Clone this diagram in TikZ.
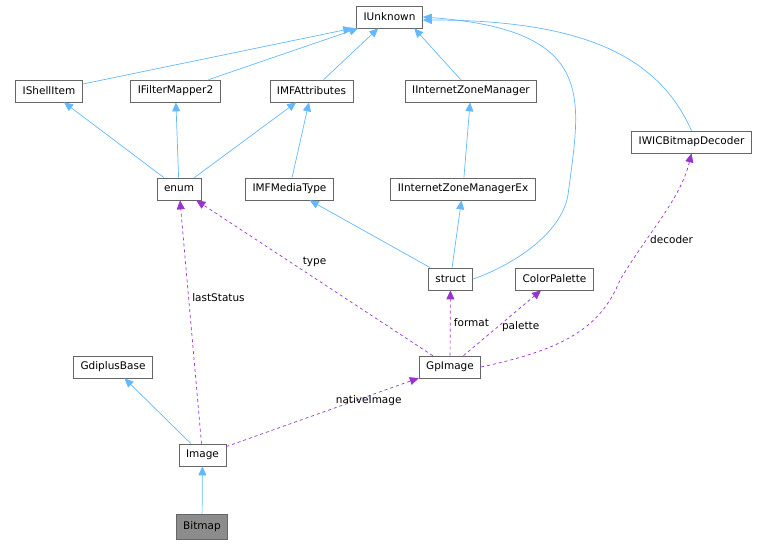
\documentclass[tikz,border=0pt]{standalone}
\usepackage{fontspec}
\setmainfont{DejaVu Sans}
\usetikzlibrary{arrows.meta}
\definecolor{inh}{HTML}{63B8FF}
\definecolor{use}{HTML}{9A32CD}
\begin{document}
\begin{tikzpicture}[x=1pt, y=-1pt, font=\fontsize{10.5}{12}\selectfont, line width=0.7pt,
  cls/.style = {draw=black!60, fill=white, minimum height=22pt, inner xsep=7pt, inner ysep=0pt},
  inherit/.style = {draw=inh, -{Triangle[fill=inh, length=9pt, width=8pt]}},
  uses/.style = {draw=use, dashed, -{Triangle[fill=use, length=9pt, width=8pt]}}]
\useasboundingbox (0,0) rectangle (774,548);
\node[cls] (iunk) at (389.5,17) {IUnknown};
\node[cls] (ishell) at (49,91) {IShellItem};
\node[cls] (ifilt) at (175.5,91) {IFilterMapper2};
\node[cls] (imfa) at (311.5,91) {IMFAttributes};
\node[cls] (izone) at (471,91) {IInternetZoneManager};
\node[cls] (iwic) at (691.5,142) {IWICBitmapDecoder};
\node[cls] (enum) at (179,189) {enum};
\node[cls] (imft) at (289.5,189) {IMFMediaType};
\node[cls] (izonex) at (463,189) {IInternetZoneManagerEx};
\node[cls] (struct) at (450.5,279) {struct};
\node[cls] (palette) at (554.5,279) {ColorPalette};
\node[cls] (gdib) at (113,367) {GdiplusBase};
\node[cls] (gpimg) at (450,367) {GpImage};
\node[cls] (image) at (202.5,455) {Image};
\node[cls, fill=black!45, minimum height=25pt] (bitmap) at (202,527) {Bitmap};
% inheritance
\draw[inherit] (ishell) -- ([xshift=-4pt]iunk.south west);
\draw[inherit] (ifilt) -- ([xshift=2pt]iunk.south west);
\draw[inherit] (imfa) -- ([xshift=22pt]iunk.south west);
\draw[inherit] (izone) -- ([xshift=58pt]iunk.south west);
\draw[inherit] (struct.east) .. controls (500,270) and (560,240) .. (568,195)
  .. controls (580,100) and (600,30) .. (iunk.east);
\draw[inherit] (iwic.north) .. controls (660,60) and (590,20) .. ([yshift=-3pt]iunk.east);
\draw[inherit] (enum) -- (ishell);
\draw[inherit] (enum) -- (ifilt);
\draw[inherit] (enum) -- (imfa);
\draw[inherit] (imft) -- (imfa);
\draw[inherit] (struct) -- (imft);
\draw[inherit] (struct) -- (izonex);
\draw[inherit] (izonex) -- (izone);
\draw[inherit] (image) -- (gdib);
\draw[inherit] (bitmap) -- (image);
% usage
\draw[uses] (image) -- node[right, pos=0.6] {lastStatus} (enum);
\draw[uses] (image) -- node[above right, pos=0.55] {nativeImage} (gpimg);
\draw[uses] (gpimg) -- node[above, pos=0.5, yshift=8pt] {type} (enum);
\draw[uses] (gpimg) -- node[right] {format} (struct);
\draw[uses] (gpimg) -- node[right, pos=0.45] {palette} (palette);
\draw[uses] (gpimg.east) .. controls (560,350) and (600,330) .. (620,280)
  .. controls (650,230) and (680,200) .. node[right, pos=0.3] {decoder} (iwic.south);
\end{tikzpicture}
\end{document}
